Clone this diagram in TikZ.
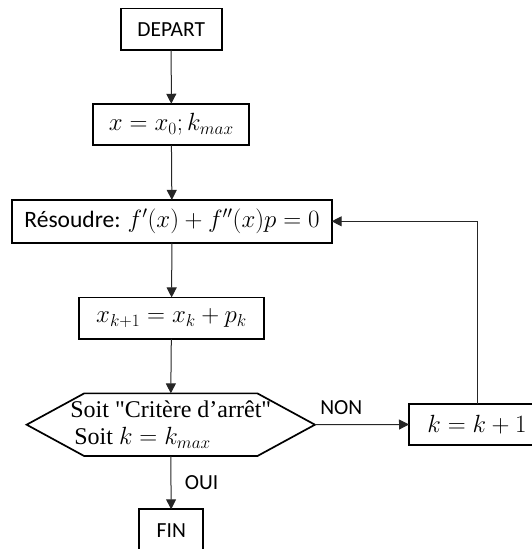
\documentclass[tikz,border=0pt]{standalone}
\usepackage{fontspec}
\setmainfont{Carlito}
\newfontfamily\soitfont{Liberation Serif}
\usetikzlibrary{arrows.meta,shapes,calc}
\newcommand\mathtaille{\fontsize{24}{28}\selectfont}

\tikzset{
bloc/.style={draw,line width=1.7pt,minimum height=41.5pt,inner sep=0pt,outer sep=0pt,font=\fontsize{21.5}{26}\selectfont},
blocmath/.style={bloc,font=\mathtaille},
fleche/.style={-{Triangle[length=10pt,width=10pt]},line width=1pt,black!85},
etiq/.style={font=\fontsize{21.5}{26}\selectfont,black}
}

\begin{document}
\begin{tikzpicture}[x=1pt,y=-1pt]
\useasboundingbox (0,0) rectangle (532,549);
\clip (0,0) rectangle (532,549);
\node[bloc,minimum width=101pt](depart) at (171.2,29.2){DEPART};
\node[blocmath,minimum width=156pt](init) at (171.3,124.5){$x=x_0;k_{max}$};
\node[bloc,font=\fontsize{23.5}{28}\selectfont,minimum width=319.4pt,minimum height=42.7pt](resoudre) at (172,221.3){R\'esoudre: {\mathtaille$f'(x)+f''(x)p=0$}};
\node[blocmath,minimum width=185pt](maj) at (171.5,318.2){$x_{k+1}=x_k+p_k$};
\node[etiq,align=left,minimum width=288.3pt,minimum height=62.7pt,inner sep=0pt,outer sep=0pt,font=\fontsize{24}{27}\selectfont\soitfont](test) at (170.8,424.7){Soit "Crit\`ere d’arr\^et"\\\hspace{4pt}Soit $k=k_{max}$};
\draw[line width=1.7pt](test.west)--([xshift=57.6pt]test.north west)--([xshift=-57.6pt]test.north east)--(test.east)
--([xshift=-57.6pt]test.south east)--([xshift=57.6pt]test.south west)--cycle;
\node[blocmath,minimum width=136pt](incr) at (477,424.5){$k=k+1$};
\node[bloc,minimum width=64pt,minimum height=42pt](fin) at (171.3,530.3){FIN};
\draw[fleche](depart)--(init);
\draw[fleche](init)--(resoudre);
\draw[fleche](resoudre)--(maj);
\draw[fleche](maj)--(test.north);
\draw[fleche](test.east)--node[etiq,pos=0.28,above=6pt]{NON}(incr.west);
\draw[fleche](test.south)--node[etiq,right=10pt]{OUI}(fin);
\draw[fleche](incr.north)|-(resoudre.east);
\end{tikzpicture}
\end{document}
